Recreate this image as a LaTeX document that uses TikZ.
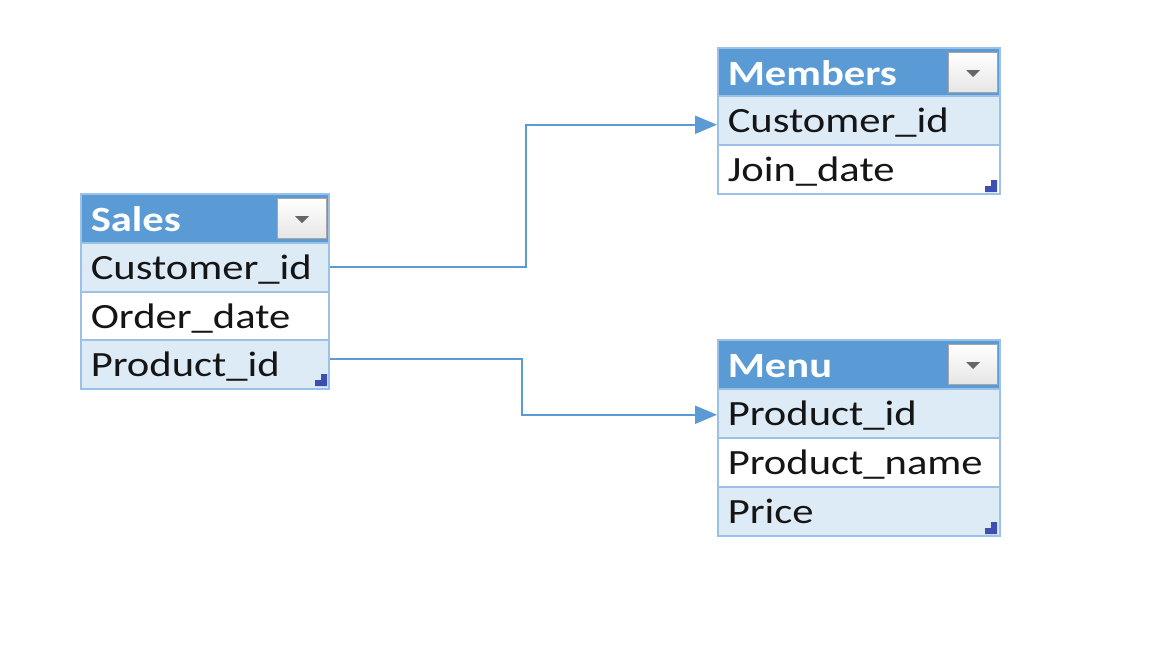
\documentclass[tikz,border=0pt]{standalone}
\usepackage{fontspec}
\setmainfont{Carlito}[FakeStretch=1.2]
\usetikzlibrary{arrows.meta}
\definecolor{hdr}{HTML}{5B9BD5}
\definecolor{rowc}{HTML}{DDEBF7}
\definecolor{bordc}{HTML}{9BC2E6}
\definecolor{linec}{HTML}{5B9BD5}
\definecolor{cornc}{HTML}{3F4FB0}
\definecolor{btnb}{HTML}{A6A6A6}
\definecolor{btnt}{HTML}{666666}
\definecolor{txtc}{HTML}{151515}
\begin{document}
\begin{tikzpicture}[x=1pt,y=-1pt,
  cell/.style={draw=bordc, line width=1.5pt, anchor=north west, inner sep=0pt, inner xsep=10pt,
    minimum height=49pt, align=left, text height=26pt, text depth=1pt, text=txtc,
    font=\fontsize{35.5}{40}\selectfont},
  hcell/.style={cell, fill=hdr, text=white, text height=27pt, text depth=0pt,
    font=\fontsize{35.5}{40}\selectfont\bfseries},
  narrow/.style={text width=228pt},
  wide/.style={text width=262pt},
  light/.style={fill=rowc},
  plain/.style={fill=white},
  btn/.style={draw=btnb, line width=1pt, top color=white, bottom color=black!10, minimum width=49pt, minimum height=40pt, inner sep=0pt, anchor=north west},
  conn/.style={draw=linec, line width=2pt, -{Triangle[length=22pt,width=18pt]}},
  corner/.style={fill=cornc}
]
\useasboundingbox (0,0) rectangle (1152,648);
\fill[white] (0,0) rectangle (1152,648);

% Sales
\node[hcell, narrow] (sh) at (80,193) {Sales};
\node[cell, narrow, light] (s1) at (80,242) {Customer\_id};
\node[cell, narrow, plain] (s2) at (80,291) {Order\_date};
\node[cell, narrow, light] (s3) at (80,339) {Product\_id};
\node[btn] (sb) at (277,198) {};
\fill[btnt] ([xshift=-7pt,yshift=2.5pt]sb.center) -- ([xshift=7pt,yshift=2.5pt]sb.center) -- ([yshift=-4.5pt]sb.center) -- cycle;
\fill[corner] (315,386) -- (315,380) -- (321,380) -- (321,374) -- (327,374) -- (327,386) -- cycle;

% Members
\node[hcell, wide] (mh) at (717,47) {Members};
\node[cell, wide, light] (m1) at (717,95) {Customer\_id};
\node[cell, wide, plain] (m2) at (717,144) {Join\_date};
\node[btn] (mb) at (948,52) {};
\fill[btnt] ([xshift=-7pt,yshift=2.5pt]mb.center) -- ([xshift=7pt,yshift=2.5pt]mb.center) -- ([yshift=-4.5pt]mb.center) -- cycle;
\fill[corner] (985,192) -- (985,186) -- (991,186) -- (991,180) -- (997,180) -- (997,192) -- cycle;

% Menu
\node[hcell, wide] (uh) at (717,339) {Menu};
\node[cell, wide, light] (u1) at (717,388) {Product\_id};
\node[cell, wide, plain] (u2) at (717,437) {Product\_name};
\node[cell, wide, light] (u3) at (717,486) {Price};
\node[btn] (ub) at (948,344) {};
\fill[btnt] ([xshift=-7pt,yshift=2.5pt]ub.center) -- ([xshift=7pt,yshift=2.5pt]ub.center) -- ([yshift=-4.5pt]ub.center) -- cycle;
\fill[corner] (985,534) -- (985,528) -- (991,528) -- (991,522) -- (997,522) -- (997,534) -- cycle;

% Connectors
\draw[conn] (s1.east) -- ++(196,0) |- ([yshift=-4.5pt]m1.west);
\draw[conn] ([yshift=5pt]s3.east) -- ++(192,0) |- ([yshift=-1.5pt]u1.west);
\end{tikzpicture}
\end{document}
